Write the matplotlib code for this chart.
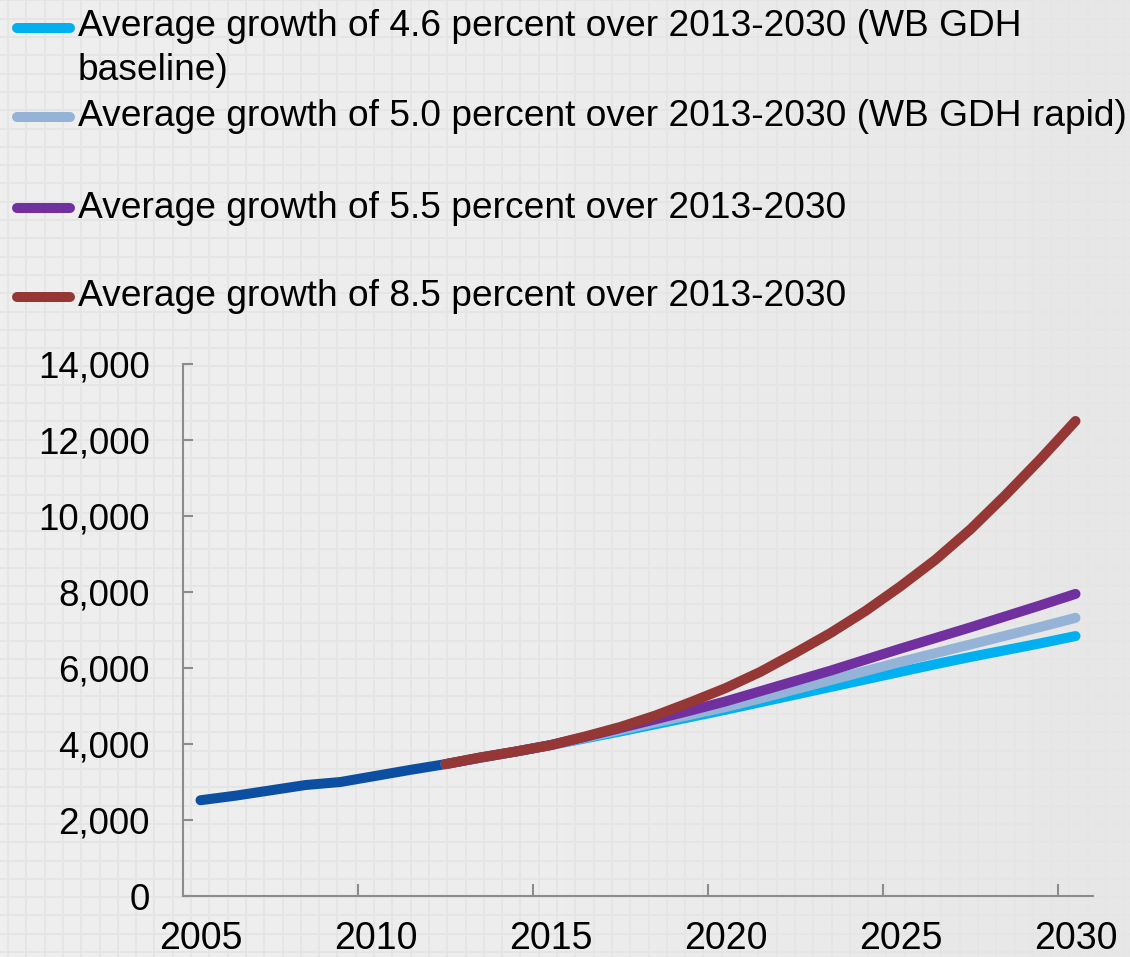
import matplotlib.pyplot as plt
import numpy as np
from matplotlib.lines import Line2D

plt.rcParams["font.family"] = ["Liberation Sans", "DejaVu Sans"]

# historical series 2005-2012
hist_years = list(range(2005, 2013))
hist_values = [2520, 2640, 2780, 2920, 3000, 3160, 3320, 3470]

# projections 2012-2030
proj_years = list(range(2012, 2031))
growth_46 = [3470, 3640, 3800, 3970, 4150, 4330, 4520, 4710, 4900, 5100,
             5300, 5500, 5700, 5900, 6100, 6290, 6470, 6650, 6840]
growth_50 = [3470, 3640, 3800, 3970, 4170, 4370, 4570, 4770, 4970, 5200,
             5440, 5680, 5920, 6160, 6390, 6620, 6850, 7080, 7320]
growth_55 = [3470, 3640, 3800, 3970, 4190, 4420, 4650, 4880, 5120, 5390,
             5660, 5930, 6220, 6510, 6790, 7070, 7360, 7650, 7950]
growth_85 = [3470, 3650, 3800, 3970, 4200, 4450, 4750, 5100, 5470, 5900,
             6400, 6920, 7500, 8150, 8850, 9650, 10550, 11500, 12500]

labels = [
    "Average growth of 4.6 percent over 2013-2030 (WB GDH\nbaseline)",
    "Average growth of 5.0 percent over 2013-2030 (WB GDH rapid)",
    "Average growth of 5.5 percent over 2013-2030",
    "Average growth of 8.5 percent over 2013-2030",
]
colors = ["#00b0f0", "#95b3d7", "#7030a0", "#953735"]
hist_color = "#0b4ea2"

fig = plt.figure(figsize=(11.3, 9.57), dpi=100)

# graph paper background
bg = fig.add_axes([0, 0, 1, 1], zorder=-10)
grad = np.linspace(0, 1, 200)[None, :]
bg.imshow(grad, extent=[0, 1130, 0, 957], aspect="auto",
          cmap=plt.matplotlib.colors.LinearSegmentedColormap.from_list(
              "bgc", ["#efefef", "#ededed", "#e7e7e7"]))
step = 18.3
for gx in np.arange(8, 1130, step):
    bg.axvline(gx, color="#e5e5e5", lw=1.3)
for gy in np.arange(5, 957, step):
    bg.axhline(gy, color="#e5e5e5", lw=1.3)
bg.set_xlim(0, 1130)
bg.set_ylim(0, 957)
bg.axis("off")

ax = fig.add_axes([183 / 1130, 1 - 896 / 957, 910 / 1130, 532 / 957])
ax.set_facecolor("none")

lw = 7.2
ax.plot(hist_years, hist_values, color=hist_color, lw=lw, solid_capstyle="round",
        solid_joinstyle="round", zorder=2)
for vals, c in zip([growth_46, growth_50, growth_55, growth_85], colors):
    ax.plot(proj_years, vals, color=c, lw=lw, solid_capstyle="round",
            solid_joinstyle="round", zorder=3)

ax.set_xlim(2004.5, 2030.5)
ax.set_ylim(0, 14000)
ax.set_xticks(range(2005, 2031, 5))
ax.set_xticks(np.arange(2009.5, 2030, 5), minor=True)
ax.set_yticks(range(0, 14001, 2000))
ax.yaxis.set_major_formatter(plt.FuncFormatter(lambda v, p: f"{int(v):,}"))
ax.tick_params(axis="x", which="major", length=0, labelsize=27, pad=18)
ax.tick_params(axis="x", which="minor", length=8.5, direction="in",
               color="#8c8c8c", width=1.5)
ax.tick_params(axis="y", length=7, direction="in", color="#8c8c8c", width=1.5,
               labelsize=26.5, pad=24)

for s in ["top", "right"]:
    ax.spines[s].set_visible(False)
for s in ["left", "bottom"]:
    ax.spines[s].set_color("#8c8c8c")
    ax.spines[s].set_linewidth(1.5)

# legend drawn by hand in figure pixels
leg_y = [957 - 28, 957 - 117, 957 - 208, 957 - 297]
for lab, c, y in zip(labels, colors, leg_y):
    fig.add_artist(Line2D([17 / 1130, 70 / 1130], [y / 957, y / 957], color=c,
                          lw=7.2, solid_capstyle="round"))
    if "\n" in lab:
        fig.text(78 / 1130, (y - 20.5) / 957, lab, fontsize=26.7, va="center",
                 ha="left", linespacing=1.3)
        continue
    fig.text(78 / 1130, y / 957, lab, fontsize=26.7, va="center", ha="left")

fig.savefig("out.png", dpi=100)
